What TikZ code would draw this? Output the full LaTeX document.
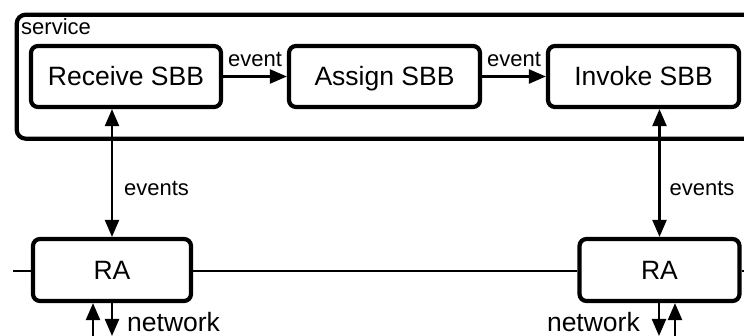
\documentclass[tikz,border=0pt]{standalone}
\usepackage{fontspec}
\setmainfont{Liberation Sans}
\usetikzlibrary{arrows.meta}
\begin{document}
\begin{tikzpicture}[x=1pt,y=-1pt,
  box/.style={draw, line width=4.2pt, rounded corners=7pt, inner sep=0pt,
    font=\fontsize{26.5}{30}\selectfont, text height=19pt, text depth=0pt},
  small/.style={font=\fontsize{22}{26}\selectfont, inner sep=0pt},
  arr/.style={line width=2.3pt, -{Triangle[length=17pt,width=14pt]}},
  darr/.style={line width=2.3pt, {Triangle[length=17pt,width=14pt]}-{Triangle[length=17pt,width=14pt]}},
  net/.style={line width=1.6pt}]
\useasboundingbox (0,0) rectangle (744,336);
\node[draw, line width=4.2pt, rounded corners=9pt, minimum width=745pt, minimum height=124pt, anchor=north west, inner sep=0pt, outer sep=0pt] (svc) at (16.7,14.7) {};
\node[small, anchor=west] (svclbl) at (21,26.5) {service};
\node[box, minimum width=190pt, minimum height=61pt] (rcv) at (126,76.5) {Receive SBB};
\node[box, minimum width=191pt, minimum height=61pt] (asg) at (384.5,76.5) {Assign SBB};
\node[box, minimum width=191pt, minimum height=61pt] (inv) at (643.5,76.5) {Invoke SBB};
\node[box, minimum width=158pt, minimum height=62pt] (ra1) at (112,270) {RA};
\node[box, minimum width=160pt, minimum height=62pt] (ra2) at (659.5,270) {RA};
\draw[arr] (rcv.east) -- (asg.west) node[small, midway, above=9pt] (ev1) {event};
\draw[arr] (asg.east) -- (inv.west) node[small, midway, above=9pt] (ev2) {event};
\draw[darr] (ra1.north |- rcv.south) -- (ra1.north) node[small, pos=0.62, right=11pt] (evs1) {events};
\draw[darr] (ra2.north |- inv.south) -- (ra2.north) node[small, pos=0.62, right=9pt] (evs2) {events};
\coordinate (lend) at (13,271);
\coordinate (rend) at (760,271);
\draw[net] (lend) -- (ra1.west |- lend);
\draw[net] (ra1.east |- lend) -- (ra2.west |- lend);
\draw[net] (ra2.east |- lend) -- (rend);
\coordinate (n1u) at (93,345);
\coordinate (n1d) at (112,336);
\coordinate (n2d) at (659,336);
\coordinate (n2u) at (675,345);
\draw[arr] (n1u) -- (ra1.south -| n1u);
\draw[arr] (ra1.south -| n1d) -- (n1d);
\draw[arr] (ra2.south -| n2d) -- (n2d);
\draw[arr] (n2u) -- (ra2.south -| n2u);
\node[small, font=\fontsize{26.5}{30}\selectfont, anchor=west] (nw1) at (127,322) {network};
\node[small, font=\fontsize{26.5}{30}\selectfont, anchor=east] (nw2) at (640,322) {network};
\end{tikzpicture}
\end{document}
